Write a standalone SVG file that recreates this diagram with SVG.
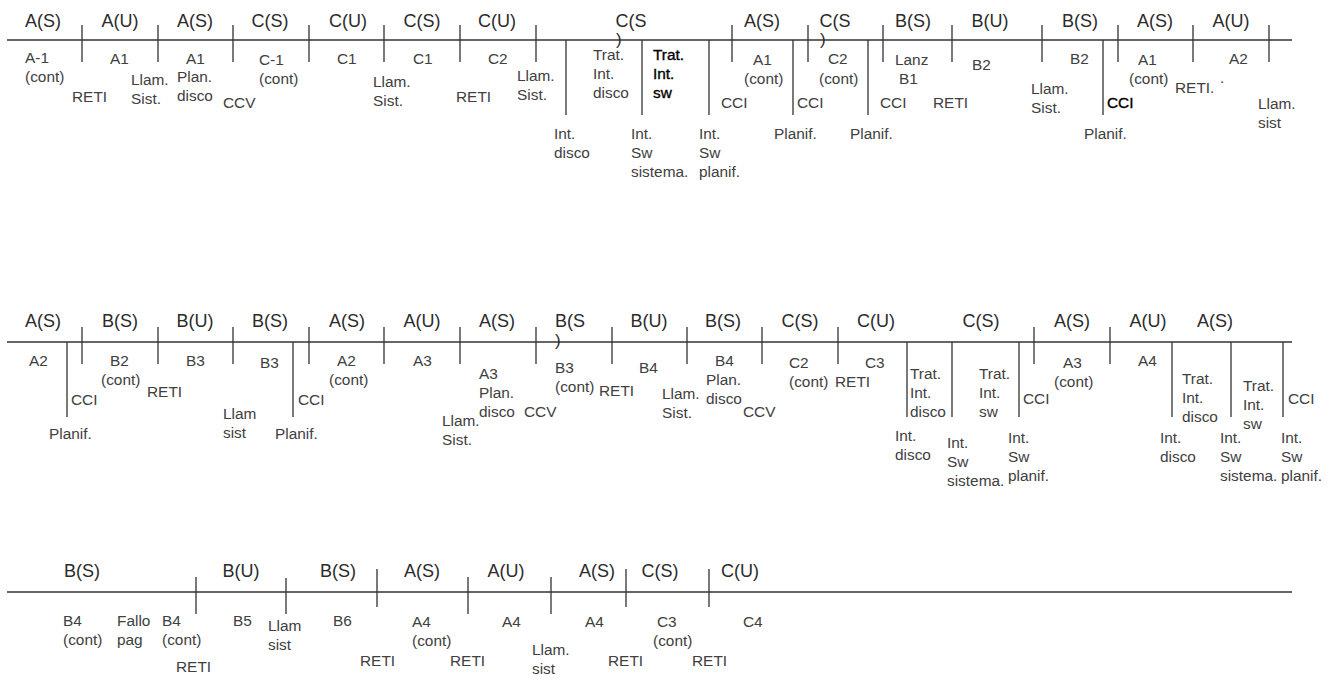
<svg xmlns="http://www.w3.org/2000/svg" width="1337" height="680" viewBox="0 0 1337 680">
<style>
.ln{stroke:#333;stroke-width:1.3;fill:none}
.top{font-family:"Liberation Sans",Arial,sans-serif;font-size:18px;fill:#2b2b2b;text-anchor:middle}
.par{font-family:"Liberation Sans",Arial,sans-serif;font-size:17px;fill:#2b2b2b}
.lb{font-family:"Liberation Sans",Arial,sans-serif;font-size:15.4px;fill:#404040}
.bd{fill:#000;stroke:#000;stroke-width:0.35}
</style>
<rect width="1337" height="680" fill="#fff"/>
<g id="connectors">
  <!-- row 1 -->
  <line class="ln" x1="7" y1="40" x2="1292" y2="40"/>
  <path class="ln" d="M82 25V62M158 25V62M233 25V62M309 25V62M384 25V62M460 25V62M536 25V62M732 25V62M808 25V62M883 25V62M952 25V62M1042 25V62M1118 25V62M1193 25V62M1269 25V62"/>
  <path class="ln" d="M566 40V115M642 40V115M709 40V115M793 40V115M868 40V115M1103 40V115"/>
  <!-- row 2 -->
  <line class="ln" x1="7" y1="342" x2="1292" y2="342"/>
  <path class="ln" d="M82 327V364M158 327V364M233 327V364M309 327V364M384 327V364M460 327V364M536 327V364M612 327V364M687 327V364M762 327V364M838 327V364M1034 327V364M1110 327V364"/>
  <path class="ln" d="M67 342V417M293 342V417M907 342V417M952 342V417M1019 342V417M1172 342V417M1231 342V417M1283 342V417"/>
  <!-- row 3 -->
  <line class="ln" x1="7" y1="592" x2="1292" y2="592"/>
  <path class="ln" d="M196 577V614M286 578V614M377 569V607M468 577V614M551 577V614M626 569V607M709 569V607"/>
</g>
<g id="row1-top">
  <text class="top" x="43" y="27">A(S)</text>
  <text class="top" x="120" y="27">A(U)</text>
  <text class="top" x="195" y="27">A(S)</text>
  <text class="top" x="270" y="27">C(S)</text>
  <text class="top" x="348" y="27">C(U)</text>
  <text class="top" x="422" y="27">C(S)</text>
  <text class="top" x="497" y="27">C(U)</text>
  <text class="top" x="631" y="27">C(S</text>
  <text class="par" x="616" y="45">)</text>
  <text class="top" x="762" y="27">A(S)</text>
  <text class="top" x="835" y="27">C(S</text>
  <text class="par" x="820" y="45">)</text>
  <text class="top" x="913" y="27">B(S)</text>
  <text class="top" x="990" y="27">B(U)</text>
  <text class="top" x="1080" y="27">B(S)</text>
  <text class="top" x="1155" y="27">A(S)</text>
  <text class="top" x="1231" y="27">A(U)</text>
</g>
<g id="row1-labels">
  <text class="lb" x="25" y="63">A-1<tspan x="25" dy="19">(cont)</tspan></text>
  <text class="lb" x="72" y="102">RETI</text>
  <text class="lb" x="110" y="64">A1</text>
  <text class="lb" x="131" y="85">Llam.<tspan x="131" dy="19">Sist.</tspan></text>
  <text class="lb" x="186" y="64">A1</text>
  <text class="lb" x="177" y="82">Plan.<tspan x="177" dy="19">disco</tspan></text>
  <text class="lb" x="223" y="108">CCV</text>
  <text class="lb" x="259" y="65">C-1<tspan x="259" dy="19">(cont)</tspan></text>
  <text class="lb" x="337" y="64">C1</text>
  <text class="lb" x="373" y="87">Llam.<tspan x="373" dy="19">Sist.</tspan></text>
  <text class="lb" x="413" y="64">C1</text>
  <text class="lb" x="456" y="102">RETI</text>
  <text class="lb" x="488" y="64">C2</text>
  <text class="lb" x="517" y="81">Llam.<tspan x="517" dy="19">Sist.</tspan></text>
  <text class="lb" x="593" y="60">Trat.<tspan x="593" dy="19">Int.</tspan><tspan x="593" dy="19">disco</tspan></text>
  <text class="lb" x="554" y="139">Int.<tspan x="554" dy="19">disco</tspan></text>
  <text class="lb bd" x="653" y="60">Trat.<tspan x="653" dy="19">Int.</tspan><tspan x="653" dy="19">sw</tspan></text>
  <text class="lb" x="631" y="139">Int.<tspan x="631" dy="19">Sw</tspan><tspan x="631" dy="19">sistema.</tspan></text>
  <text class="lb" x="699" y="139">Int.<tspan x="699" dy="19">Sw</tspan><tspan x="699" dy="19">planif.</tspan></text>
  <text class="lb" x="721" y="108">CCI</text>
  <text class="lb" x="753" y="65">A1</text>
  <text class="lb" x="744" y="84">(cont)</text>
  <text class="lb" x="797" y="108">CCI</text>
  <text class="lb" x="774" y="139">Planif.</text>
  <text class="lb" x="828" y="64">C2</text>
  <text class="lb" x="819" y="84">(cont)</text>
  <text class="lb" x="880" y="108">CCI</text>
  <text class="lb" x="850" y="139">Planif.</text>
  <text class="lb" x="895" y="65">Lanz</text>
  <text class="lb" x="899" y="84">B1</text>
  <text class="lb" x="933" y="108">RETI</text>
  <text class="lb" x="972" y="70">B2</text>
  <text class="lb" x="1031" y="94">Llam.<tspan x="1031" dy="19">Sist.</tspan></text>
  <text class="lb" x="1070" y="64">B2</text>
  <text class="lb bd" x="1107" y="108">CCI</text>
  <text class="lb" x="1084" y="139">Planif.</text>
  <text class="lb" x="1138" y="65">A1</text>
  <text class="lb" x="1129" y="84">(cont)</text>
  <text class="lb" x="1175" y="93">RETI.</text>
  <text class="lb" x="1220" y="83">.</text>
  <text class="lb" x="1229" y="64">A2</text>
  <text class="lb" x="1258" y="109">Llam.<tspan x="1258" dy="19">sist</tspan></text>
</g>
<g id="row2-top">
  <text class="top" x="43" y="327">A(S)</text>
  <text class="top" x="120" y="327">B(S)</text>
  <text class="top" x="195" y="327">B(U)</text>
  <text class="top" x="270" y="327">B(S)</text>
  <text class="top" x="347" y="327">A(S)</text>
  <text class="top" x="422" y="327">A(U)</text>
  <text class="top" x="497" y="327">A(S)</text>
  <text class="top" x="570" y="327">B(S</text>
  <text class="par" x="555" y="346">)</text>
  <text class="top" x="649" y="327">B(U)</text>
  <text class="top" x="723" y="327">B(S)</text>
  <text class="top" x="800" y="327">C(S)</text>
  <text class="top" x="876" y="327">C(U)</text>
  <text class="top" x="981" y="327">C(S)</text>
  <text class="top" x="1072" y="327">A(S)</text>
  <text class="top" x="1148" y="327">A(U)</text>
  <text class="top" x="1215" y="327">A(S)</text>
</g>
<g id="row2-labels">
  <text class="lb" x="29" y="366">A2</text>
  <text class="lb" x="71" y="405">CCI</text>
  <text class="lb" x="49" y="439">Planif.</text>
  <text class="lb" x="110" y="366">B2</text>
  <text class="lb" x="101" y="385">(cont)</text>
  <text class="lb" x="147" y="397">RETI</text>
  <text class="lb" x="186" y="366">B3</text>
  <text class="lb" x="260" y="368">B3</text>
  <text class="lb" x="223" y="419">Llam<tspan x="223" dy="19">sist</tspan></text>
  <text class="lb" x="298" y="405">CCI</text>
  <text class="lb" x="275" y="439">Planif.</text>
  <text class="lb" x="337" y="366">A2</text>
  <text class="lb" x="329" y="385">(cont)</text>
  <text class="lb" x="413" y="366">A3</text>
  <text class="lb" x="442" y="426">Llam.<tspan x="442" dy="19">Sist.</tspan></text>
  <text class="lb" x="479" y="379">A3<tspan x="479" dy="19">Plan.</tspan><tspan x="479" dy="19">disco</tspan></text>
  <text class="lb" x="524" y="417">CCV</text>
  <text class="lb" x="555" y="373">B3<tspan x="555" dy="19">(cont)</tspan></text>
  <text class="lb" x="599" y="396">RETI</text>
  <text class="lb" x="639" y="373">B4</text>
  <text class="lb" x="662" y="399">Llam.<tspan x="662" dy="19">Sist.</tspan></text>
  <text class="lb" x="715" y="366">B4</text>
  <text class="lb" x="706" y="385">Plan.<tspan x="706" dy="19">disco</tspan></text>
  <text class="lb" x="743" y="417">CCV</text>
  <text class="lb" x="789" y="368">C2<tspan x="789" dy="19">(cont)</tspan></text>
  <text class="lb" x="835" y="387">RETI</text>
  <text class="lb" x="865" y="368">C3</text>
  <text class="lb" x="910" y="379">Trat.<tspan x="910" dy="19">Int.</tspan><tspan x="910" dy="19">disco</tspan></text>
  <text class="lb" x="895" y="441">Int.<tspan x="895" dy="19">disco</tspan></text>
  <text class="lb" x="979" y="379">Trat.<tspan x="979" dy="19">Int.</tspan><tspan x="979" dy="19">sw</tspan></text>
  <text class="lb" x="947" y="448">Int.<tspan x="947" dy="19">Sw</tspan><tspan x="947" dy="19">sistema.</tspan></text>
  <text class="lb" x="1008" y="443">Int.<tspan x="1008" dy="19">Sw</tspan><tspan x="1008" dy="19">planif.</tspan></text>
  <text class="lb" x="1023" y="404">CCI</text>
  <text class="lb" x="1063" y="368">A3</text>
  <text class="lb" x="1054" y="387">(cont)</text>
  <text class="lb" x="1138" y="366">A4</text>
  <text class="lb" x="1182" y="384">Trat.<tspan x="1182" dy="19">Int.</tspan><tspan x="1182" dy="19">disco</tspan></text>
  <text class="lb" x="1160" y="443">Int.<tspan x="1160" dy="19">disco</tspan></text>
  <text class="lb" x="1243" y="391">Trat.<tspan x="1243" dy="19">Int.</tspan><tspan x="1243" dy="19">sw</tspan></text>
  <text class="lb" x="1220" y="443">Int.<tspan x="1220" dy="19">Sw</tspan><tspan x="1220" dy="19">sistema.</tspan></text>
  <text class="lb" x="1288" y="404">CCI</text>
  <text class="lb" x="1281" y="443">Int.<tspan x="1281" dy="19">Sw</tspan><tspan x="1281" dy="19">planif.</tspan></text>
</g>
<g id="row3-top">
  <text class="top" x="82" y="577">B(S)</text>
  <text class="top" x="241" y="577">B(U)</text>
  <text class="top" x="338" y="577">B(S)</text>
  <text class="top" x="422" y="577">A(S)</text>
  <text class="top" x="506" y="577">A(U)</text>
  <text class="top" x="597" y="577">A(S)</text>
  <text class="top" x="660" y="577">C(S)</text>
  <text class="top" x="740" y="577">C(U)</text>
</g>
<g id="row3-labels">
  <text class="lb" x="63" y="626">B4<tspan x="63" dy="19">(cont)</tspan></text>
  <text class="lb" x="117" y="626">Fallo<tspan x="117" dy="19">pag</tspan></text>
  <text class="lb" x="162" y="626">B4<tspan x="162" dy="19">(cont)</tspan></text>
  <text class="lb" x="176" y="672">RETI</text>
  <text class="lb" x="233" y="626">B5</text>
  <text class="lb" x="268" y="631">Llam<tspan x="268" dy="19">sist</tspan></text>
  <text class="lb" x="333" y="626">B6</text>
  <text class="lb" x="360" y="666">RETI</text>
  <text class="lb" x="412" y="627">A4<tspan x="412" dy="19">(cont)</tspan></text>
  <text class="lb" x="450" y="666">RETI</text>
  <text class="lb" x="502" y="627">A4</text>
  <text class="lb" x="532" y="655">Llam.<tspan x="532" dy="19">sist</tspan></text>
  <text class="lb" x="585" y="627">A4</text>
  <text class="lb" x="608" y="666">RETI</text>
  <text class="lb" x="657" y="627">C3</text>
  <text class="lb" x="653" y="646">(cont)</text>
  <text class="lb" x="692" y="666">RETI</text>
  <text class="lb" x="743" y="627">C4</text>
</g>
</svg>
